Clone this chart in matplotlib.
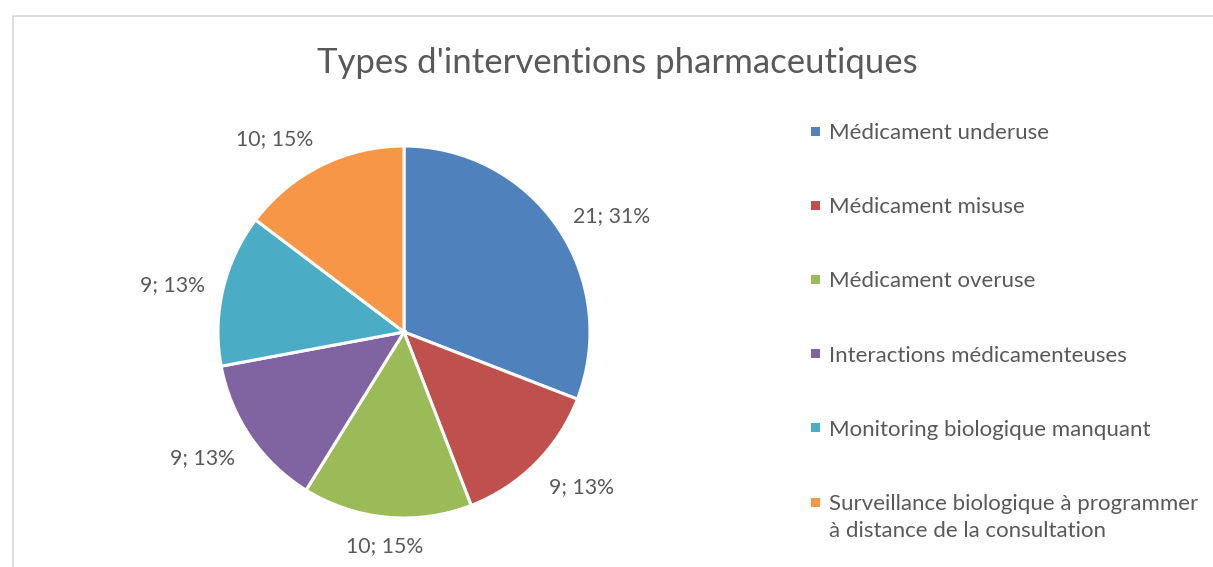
import numpy as np
import matplotlib.pyplot as plt
from matplotlib.patches import Rectangle

plt.rcParams['font.family'] = ['Lato', 'DejaVu Sans']

categories = [
    "Médicament underuse",
    "Médicament misuse",
    "Médicament overuse",
    "Interactions médicamenteuses",
    "Monitoring biologique manquant",
    "Surveillance biologique à programmer\nà distance de la consultation",
]
counts = [21, 9, 10, 9, 9, 10]
colors = ["#4F81BD", "#C0504D", "#9BBB59", "#8064A2", "#4BACC6", "#F79646"]
title = "Types d'interventions pharmaceutiques"

TEXT = "#595959"
W, H = 1213, 567

fig = plt.figure(figsize=(W / 100, H / 100), dpi=100)

# chart area border (cut at right/bottom like the screenshot)
fig.patches.append(Rectangle((12.5 / W, -0.1), 1.2, (H - 15.5) / H + 0.1,
                             transform=fig.transFigure, fill=False,
                             edgecolor="#D9D9D9", linewidth=1.2))

# pie axes: center at (404, 332) px from top-left, radius 186 px
R = 186
half = 260
cx, cy = 404, H - 332
ax = fig.add_axes([(cx - half) / W, (cy - half) / H, 2 * half / W, 2 * half / H])
wedges, _ = ax.pie(counts, colors=colors, startangle=90, counterclock=False,
                   wedgeprops=dict(edgecolor="white", linewidth=2.2))
ax.set_xlim(-half / R, half / R)
ax.set_ylim(-half / R, half / R)
ax.set_aspect("equal")
ax.axis("off")

total = sum(counts)
for w, c in zip(wedges, counts):
    mid = np.deg2rad((w.theta1 + w.theta2) / 2)
    x, y = 1.1 * np.cos(mid), 1.1 * np.sin(mid)
    ha = "left" if np.cos(mid) > 0.3 else ("right" if np.cos(mid) < -0.3 else "center")
    va = "bottom" if np.sin(mid) > 0.6 else ("top" if np.sin(mid) < -0.3 else "center")
    ax.text(x, y, f"{c}; {round(100 * c / total)}%", ha=ha, va=va,
            fontsize=15.3, color=TEXT, clip_on=False)

fig.text(617 / W, 1 - 63 / H, title, ha="center", va="center",
         fontsize=25, color=TEXT)

# legend
for i, (lab, col) in enumerate(zip(categories, colors)):
    ly = 131 + i * 74.2
    fig.patches.append(Rectangle((811 / W, 1 - (ly + 4.5) / H), 9 / W, 9 / H,
                                 transform=fig.transFigure, facecolor=col,
                                 edgecolor="none"))
    fig.text(829 / W, 1 - (ly - 8) / H, lab, ha="left", va="top",
             fontsize=16, color=TEXT, linespacing=1.45)

fig.savefig("out.png", dpi=100)
